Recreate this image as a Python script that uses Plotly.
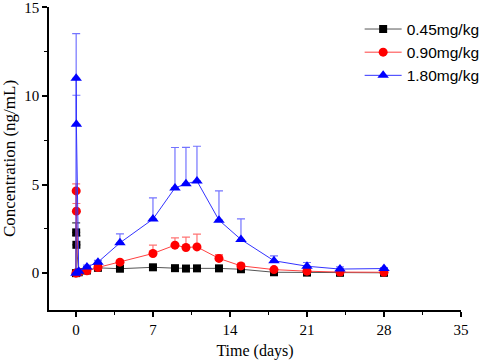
import plotly.graph_objects as go

time_days = [0, 0.02, 0.04, 0.25, 1, 2, 4, 7, 9, 10, 11, 13, 15, 18, 21, 24, 28]

low_dose = [0, 2.3, 1.6, 0.05, 0.15, 0.3, 0.25, 0.33, 0.28, 0.26, 0.27, 0.27, 0.22, 0.05, 0.03, 0.02, 0.02]
low_err = [0, 0.54, 0.5, 0, 0.05, 0.05, 0.05, 0.08, 0.05, 0.04, 0.04, 0.05, 0.05, 0.03, 0.02, 0.02, 0.02]

mid_dose = [0, 4.64, 3.5, 0.05, 0.13, 0.32, 0.62, 1.11, 1.58, 1.45, 1.48, 0.83, 0.41, 0.2, 0.11, 0.06, 0.05]
mid_err = [0, 0.4, 0.43, 0, 0.05, 0.1, 0.1, 0.47, 0.41, 0.58, 0.72, 0.22, 0.14, 0.05, 0.05, 0.03, 0.03]

high_dose = [0, 11.0, 8.4, 0.1, 0.35, 0.62, 1.71, 3.05, 4.81, 5.04, 5.2, 2.99, 1.9, 0.7, 0.39, 0.23, 0.26]
high_err = [0, 2.52, 1.64, 0, 0.1, 0.1, 0.51, 1.2, 2.28, 2.06, 1.96, 1.65, 1.16, 0.28, 0.21, 0.12, 0.05]

series_names = ["0.45mg/kg", "0.90mg/kg", "1.80mg/kg"]

x_ticks = [0, 7, 14, 21, 28, 35]
y_ticks = [0, 5, 10, 15]

specs = [
    (low_dose, low_err, series_names[0], "#000000", "#555555", "rgba(0,0,0,0.75)", "square", 8),
    (mid_dose, mid_err, series_names[1], "#ff0000", "#ff4040", "rgba(255,0,0,0.55)", "circle", 9),
    (high_dose, high_err, series_names[2], "#0000ff", "#3333ff", "rgba(0,0,255,0.55)", "triangle-up", 10),
]

fig = go.Figure()
for y, err, name, mcol, lcol, ecol, sym, size in specs:
    fig.add_trace(go.Scatter(
        x=time_days, y=y, name=name, mode="lines+markers",
        line=dict(color=lcol, width=1),
        marker=dict(color=mcol, symbol=sym, size=size),
        error_y=dict(type="data", array=err, arrayminus=[0] * len(err), symmetric=False,
                     color=ecol, thickness=1.2, width=4),
    ))

serif = "Liberation Serif, Times New Roman, serif"
tick_font = dict(family=serif, size=15, color="#000")
fig.update_layout(
    width=484, height=363,
    margin=dict(l=49, r=23, t=7, b=53, autoexpand=False),
    paper_bgcolor="white", plot_bgcolor="white",
    showlegend=True,
    legend=dict(x=0.754, y=0.982, xanchor="left", yanchor="top",
                font=dict(family="Liberation Sans, Arial, sans-serif", size=15.5, color="#000"),
                bgcolor="rgba(0,0,0,0)", tracegroupgap=0, itemwidth=37),
    xaxis=dict(range=[-2.45, 35], tickvals=x_ticks, ticktext=[str(v) for v in x_ticks],
               automargin=False, ticklabeloverflow="allow",
               showline=True, linecolor="#000", linewidth=1.5, mirror=False,
               ticks="outside", ticklen=5, tickwidth=1.5, tickcolor="#000",
               minor=dict(ticks="outside", ticklen=3, tickwidth=1.2, tickcolor="#000", dtick=3.5, tick0=0),
               showgrid=False, zeroline=False, tickfont=tick_font,
               title=dict(text="Time (days)", font=dict(family=serif, size=16, color="#000"), standoff=8)),
    yaxis=dict(range=[-2.08, 15.02], tickvals=y_ticks, ticktext=[str(v) for v in y_ticks],
               automargin=False, ticklabeloverflow="allow",
               showline=True, linecolor="#000", linewidth=1.5, mirror=False,
               ticks="outside", ticklen=5, tickwidth=1.5, tickcolor="#000",
               minor=dict(ticks="outside", ticklen=3, tickwidth=1.2, tickcolor="#000", dtick=2.5, tick0=0),
               showgrid=False, zeroline=False, tickfont=tick_font,
               title=dict(text="Concentration (ng/mL)", font=dict(family=serif, size=17, color="#000"), standoff=8)),
)

fig.write_html("out.html", config={"displayModeBar": False},
               post_script="document.body.style.margin='0';document.body.style.overflow='hidden';")
